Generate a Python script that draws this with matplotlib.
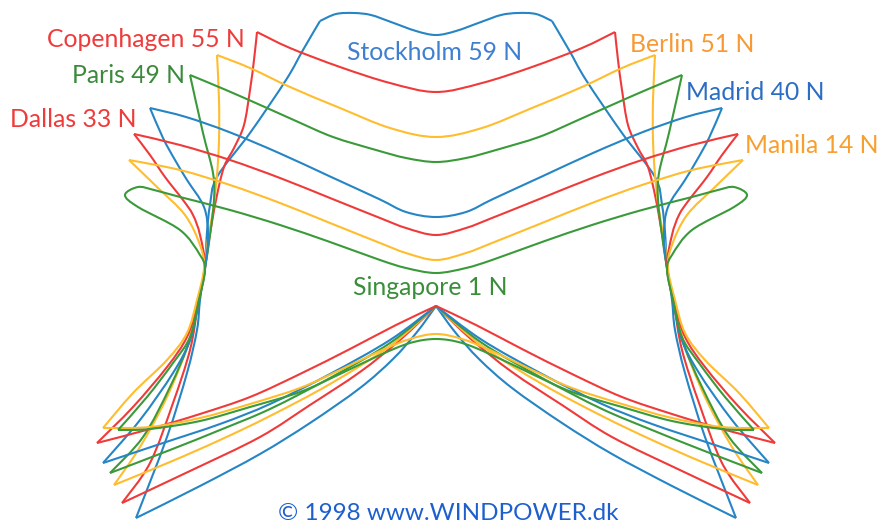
import numpy as np
import matplotlib
matplotlib.use("Agg")
import matplotlib.pyplot as plt
from matplotlib.path import Path
from matplotlib.patches import PathPatch

# Shadow outlines by latitude. Each outline is symmetric about the central
# north-south axis; only the western half is listed as (offset from axis, depth).
# top    : winter edge, from the axis out to the western tip
# side   : western flank, from the tip down to the south-western corner
# bottom : summer edge, from the south-western corner back to the axis

stockholm_top = [(0, 35), (-20, 31), (-45, 22), (-65, 15), (-82, 13), (-100, 14), (-116, 21)]
stockholm_side = [(-116, 21), (-133, 50), (-150, 80), (-186, 133), (-219, 177), (-226, 205),
                  (-229, 232), (-231, 265), (-236, 300), (-239, 330), (-249, 373), (-269, 437), (-300, 518)]
stockholm_bottom = [(-300, 518), (-236, 486), (-176, 454), (-126, 423), (-76, 388), (-43, 359),
                    (-19, 332), (0, 306)]

copenhagen_top = [(0, 92), (-46, 83), (-96, 67), (-146, 48), (-179, 32)]
copenhagen_side = [(-179, 32), (-182, 60), (-186, 90), (-192, 125), (-202, 148), (-212, 167),
                   (-220, 200), (-227, 240), (-231, 268), (-238, 305), (-246, 350), (-263, 403),
                   (-286, 463), (-314, 503)]
copenhagen_bottom = [(-314, 503), (-246, 471), (-176, 437), (-126, 405), (-76, 372), (-36, 340), (0, 306)]

berlin_top = [(0, 137), (-46, 128), (-96, 108), (-146, 87), (-186, 68), (-219, 55)]
berlin_side = [(-219, 55), (-217, 100), (-217, 140), (-219, 175), (-223, 210), (-229, 245),
               (-231, 268), (-239, 305), (-249, 347), (-269, 397), (-296, 447), (-322, 485)]
berlin_bottom = [(-322, 485), (-266, 462), (-216, 440), (-166, 416), (-106, 384), (-46, 346), (0, 306)]

paris_top = [(0, 162), (-30, 158), (-60, 150), (-103, 137), (-140, 121), (-169, 108), (-210, 90), (-246, 75)]
paris_side = [(-246, 75), (-233, 133), (-223, 173), (-222, 200), (-226, 235), (-231, 268),
              (-238, 305), (-246, 340), (-266, 387), (-293, 437), (-326, 473)]
paris_bottom = [(-326, 473), (-266, 450), (-216, 430), (-166, 409), (-106, 378), (-46, 343), (0, 306)]

madrid_top = [(0, 217), (-30, 212), (-57, 199), (-107, 176), (-157, 153), (-207, 132), (-250, 117), (-286, 108)]
madrid_side = [(-286, 108), (-273, 138), (-261, 160), (-249, 180), (-232, 207), (-228, 235),
               (-231, 268), (-238, 305), (-246, 340), (-263, 373), (-296, 420), (-333, 463)]
madrid_bottom = [(-333, 463), (-276, 444), (-216, 424), (-166, 404), (-106, 374), (-46, 340), (0, 306)]

dallas_top = [(0, 235), (-30, 228), (-56, 218), (-106, 198), (-156, 178), (-206, 160), (-256, 145), (-302, 134)]
dallas_side = [(-302, 134), (-286, 155), (-271, 177), (-253, 200), (-243, 215), (-236, 235),
               (-231, 268), (-239, 305), (-249, 337), (-269, 367), (-303, 407), (-339, 443)]
dallas_bottom = [(-339, 443), (-286, 429), (-236, 414), (-186, 397), (-136, 374), (-86, 349),
                 (-40, 325), (0, 306)]

manila_top = [(0, 260), (-30, 253), (-56, 243), (-106, 223), (-156, 203), (-206, 185), (-256, 170), (-307, 160)]
manila_side = [(-307, 160), (-279, 187), (-251, 215), (-236, 245), (-232, 268), (-239, 300),
               (-249, 333), (-269, 360), (-303, 393), (-333, 428)]
manila_bottom = [(-333, 428), (-286, 427), (-236, 418), (-186, 404), (-136, 388), (-96, 370),
                 (-56, 351), (-26, 339), (0, 334)]

singapore_top = [(0, 273), (-30, 268), (-56, 260), (-106, 242), (-156, 225), (-206, 210),
                 (-256, 197), (-282, 190), (-298, 187), (-311, 195)]
singapore_side = [(-311, 195), (-298, 207), (-256, 230), (-236, 255), (-231, 270), (-237, 300),
                  (-246, 337), (-263, 363), (-289, 397), (-318, 430)]
singapore_bottom = [(-318, 430), (-286, 429), (-236, 421), (-186, 407), (-136, 392), (-96, 374),
                    (-56, 355), (-26, 343), (0, 339)]

RED, ORANGE, GREEN, BLUE = "#f03a3a", "#ffbd2e", "#3a9a3a", "#2585c5"

# (top, side, bottom, colour, rounded western tip, rounded summer apex)
cities = {
    "Stockholm": (stockholm_top, stockholm_side, stockholm_bottom, BLUE, False, False),
    "Copenhagen": (copenhagen_top, copenhagen_side, copenhagen_bottom, RED, False, False),
    "Berlin": (berlin_top, berlin_side, berlin_bottom, ORANGE, False, False),
    "Paris": (paris_top, paris_side, paris_bottom, GREEN, False, False),
    "Madrid": (madrid_top, madrid_side, madrid_bottom, BLUE, False, False),
    "Dallas": (dallas_top, dallas_side, dallas_bottom, RED, False, False),
    "Manila": (manila_top, manila_side, manila_bottom, ORANGE, False, True),
    "Singapore": (singapore_top, singapore_side, singapore_bottom, GREEN, True, True),
}

# Labels: (text, anchor x, baseline y, alignment, colour)
labels = [
    ("Copenhagen 55 N", 245, 47, "right", "#ee3b3b"),
    ("Paris 49 N", 185, 83, "right", "#3b8a3b"),
    ("Dallas 33 N", 137, 127, "right", "#ee3b3b"),
    ("Stockholm 59 N", 347, 60, "left", "#3f7fcf"),
    ("Berlin 51 N", 630, 52, "left", "#f79a35"),
    ("Madrid 40 N", 686, 100, "left", "#2c6dc4"),
    ("Manila 14 N", 745, 153, "left", "#f7a030"),
    ("Singapore 1 N", 353, 295, "left", "#3a8e3a"),
]
credit = ("\u00a9 1998 www.WINDPOWER.dk", 278, 520, "#1e5fcf")

AXIS_X = 436


def mirror(pts):
    return [(-x, y) for x, y in pts]


def pieces_of(top, side, bottom, round_tip, round_apex):
    arc_top = top[::-1] + mirror(top)[1:]
    right_side = mirror(side)
    out = []
    if round_tip:
        out.append(side[::-1] + arc_top[1:] + right_side[1:])
    else:
        out += [arc_top, side, right_side]
    if round_apex:
        out.append(bottom + mirror(bottom)[::-1][1:])
    else:
        out += [bottom, mirror(bottom)]
    return out


def smooth(pts):
    p = np.array([(AXIS_X + x, y) for x, y in pts], float)
    n = len(p)
    verts, codes = [p[0]], [Path.MOVETO]
    for i in range(n - 1):
        p0 = p[i - 1] if i > 0 else p[i]
        p1, p2 = p[i], p[i + 1]
        p3 = p[i + 2] if i + 2 < n else p[i + 1]
        verts += [p1 + (p2 - p0) / 6.0, p2 - (p3 - p1) / 6.0, p2]
        codes += [Path.CURVE4] * 3
    return Path(verts, codes)


fig = plt.figure(figsize=(8.78, 5.24), dpi=100, facecolor="white")
ax = fig.add_axes([0, 0, 1, 1])
ax.set_xlim(0, 878)
ax.set_ylim(524, 0)
ax.axis("off")

for name, (top, side, bottom, colour, rt, ra) in cities.items():
    for piece in pieces_of(top, side, bottom, rt, ra):
        ax.add_patch(PathPatch(smooth(piece), fill=False, edgecolor=colour,
                               lw=1.5, joinstyle="miter", capstyle="butt"))

for text, x, y, ha, colour in labels:
    ax.text(x, y, text, ha=ha, va="baseline", color=colour,
            fontsize=17.8, family=["Lato", "DejaVu Sans"])

ax.text(credit[1], credit[2], credit[0], ha="left", va="baseline", color=credit[3],
        fontsize=17.5, family=["Lato", "DejaVu Sans"])

fig.savefig("out.png", dpi=100, facecolor="white")
